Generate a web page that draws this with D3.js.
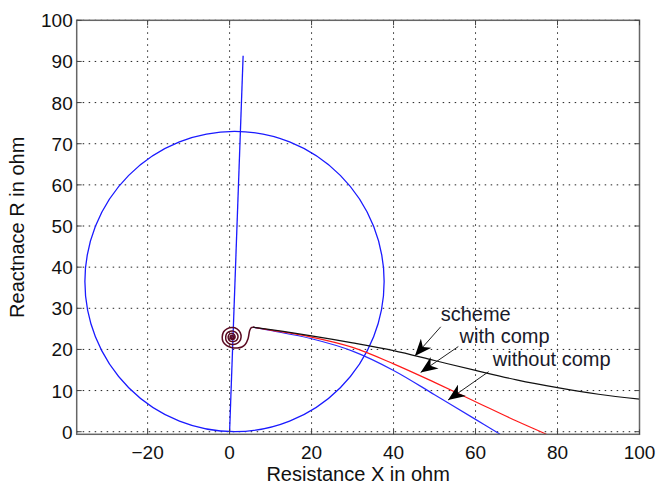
<!DOCTYPE html>
<html>
<head>
<meta charset="utf-8">
<script src="https://cdn.jsdelivr.net/npm/d3@7"></script>
<style>
  body { margin: 0; background: #fff; }
  text { font-family: "Liberation Sans", Arial, sans-serif; fill: #111; }
</style>
</head>
<body>
<svg id="chart" width="657" height="487"></svg>
<script>
// axis ticks
const xTicks = [-20, 0, 20, 40, 60, 80, 100];
const yTicks = [0, 10, 20, 30, 40, 50, 60, 70, 80, 90, 100];

// relay characteristic: mho circle + line
const mhoCenter = [1.2, 36.5];
const mhoRadius = 36.5;
const relayLine = [[0, 0], [3.3, 91.4]];

// transient spiral common to all three trajectories
const spiral = [
  [5.7, 25.4], [5.3, 25.3], [4.9, 24.6], [4.5, 22.6], [3.8, 21.2], [3.0, 20.6],
  [1.9, 20.35], [0.65, 20.4], [-0.7, 20.9], [-1.6, 21.9], [-1.8, 23.0], [-1.45, 24.3],
  [-0.65, 25.0], [0.65, 25.3], [1.8, 25.0], [2.6, 24.1], [2.8, 23.0], [2.45, 22.0],
  [1.75, 21.4], [0.65, 21.2], [-0.25, 21.5], [-0.85, 22.2], [-0.95, 23.0], [-0.75, 23.8],
  [-0.15, 24.3], [0.65, 24.5], [1.45, 24.2], [1.95, 23.6], [2.05, 23.0], [1.75, 22.3],
  [1.15, 21.95], [0.65, 21.9], [0.05, 22.1], [-0.25, 22.5], [-0.35, 23.0], [-0.15, 23.6],
  [0.25, 23.85], [0.65, 23.9], [1.15, 23.6], [1.35, 23.0], [1.15, 22.55], [0.65, 22.4],
  [0.25, 22.6], [0.1, 23.0], [0.3, 23.35], [0.65, 23.45], [0.95, 23.2], [0.95, 22.85],
  [0.65, 22.7], [0.45, 22.9], [0.55, 23.1], [0.7, 23.0]
];

// impedance trajectories
const scheme = [[5.7, 25.4], [10, 24.8], [20, 23.3], [30, 21.6], [40, 19.7], [50, 17.3],
  [60, 14.9], [70, 12.6], [80, 10.7], [90, 9.1], [100, 7.9]];
const withComp = [[5.7, 25.4], [10, 24.7], [20, 23.0], [30, 20.5], [40, 16.5], [50, 12.0],
  [60, 7.3], [70, 2.6], [77.3, -0.6]];
const withoutComp = [[5.7, 25.4], [10, 24.6], [20, 22.6], [30, 19.6], [40, 14.9], [50, 9.0],
  [60, 3.0], [66, -0.6]];

// annotation labels: text position, arrow tail, arrow head (data units)
const labels = ["scheme", "with comp", "without comp"];
const labelPos = [[51.5, 26.9], [56.1, 21.6], [64.2, 16.0]];
const arrowTail = [[51.5, 25.5], [55.8, 20.7], [63.2, 14.6]];
const arrowHead = [[45.2, 18.4], [46.6, 14.4], [53.3, 7.7]];

const margin = { top: 20.3, right: 17.5, bottom: 52.7, left: 76.7 },
      width = 657 - margin.left - margin.right,
      height = 487 - margin.top - margin.bottom;

const x = d3.scaleLinear().domain([-37.3, 100]).range([0, width]);
const y = d3.scaleLinear().domain([-0.63, 100]).range([height, 0]);

const svg = d3.select("#chart");
const g = svg.append("g")
    .attr("transform", `translate(${margin.left},${margin.top})`);

g.append("clipPath").attr("id", "clip")
  .append("rect").attr("width", width).attr("height", height);

// grid
g.append("g").selectAll("line").data(xTicks).enter().append("line")
    .attr("x1", d => x(d)).attr("x2", d => x(d))
    .attr("y1", 0).attr("y2", height)
    .attr("stroke", "#222").attr("stroke-width", 1)
    .attr("stroke-dasharray", "1.5,4.5");
g.append("g").selectAll("line").data(yTicks).enter().append("line")
    .attr("x1", 0).attr("x2", width)
    .attr("y1", d => y(d)).attr("y2", d => y(d))
    .attr("stroke", "#222").attr("stroke-width", 1)
    .attr("stroke-dasharray", "1.5,4.5");

const plot = g.append("g").attr("clip-path", "url(#clip)");

// mho circle
plot.append("ellipse")
    .attr("cx", x(mhoCenter[0])).attr("cy", y(mhoCenter[1]))
    .attr("rx", x(mhoRadius) - x(0)).attr("ry", y(0) - y(mhoRadius))
    .attr("fill", "none").attr("stroke", "#1a1aff").attr("stroke-width", 1.3);

const line = d3.line().x(d => x(d[0])).y(d => y(d[1]));
const smooth = d3.line().x(d => x(d[0])).y(d => y(d[1])).curve(d3.curveCatmullRom);

plot.append("path").datum(relayLine).attr("d", line)
    .attr("fill", "none").attr("stroke", "#1a1aff").attr("stroke-width", 1.3);

plot.append("path").datum(withoutComp).attr("d", smooth)
    .attr("fill", "none").attr("stroke", "#2a2aff").attr("stroke-width", 1.2);
plot.append("path").datum(withComp).attr("d", smooth)
    .attr("fill", "none").attr("stroke", "#ff1a1a").attr("stroke-width", 1.2);
plot.append("path").datum(scheme).attr("d", smooth)
    .attr("fill", "none").attr("stroke", "#111").attr("stroke-width", 1.2);
plot.append("path").datum(spiral).attr("d", smooth)
    .attr("fill", "none").attr("stroke", "#5a0a22").attr("stroke-width", 1.5);

// box
g.append("rect").attr("width", width).attr("height", height)
    .attr("fill", "none").attr("stroke", "#666").attr("stroke-width", 1.5);

// inward ticks on all four sides
const tk = 5;
xTicks.forEach(d => {
  g.append("line").attr("x1", x(d)).attr("x2", x(d)).attr("y1", height).attr("y2", height - tk).attr("stroke", "#444");
  g.append("line").attr("x1", x(d)).attr("x2", x(d)).attr("y1", 0).attr("y2", tk).attr("stroke", "#444");
});
yTicks.forEach(d => {
  g.append("line").attr("x1", 0).attr("x2", tk).attr("y1", y(d)).attr("y2", y(d)).attr("stroke", "#444");
  g.append("line").attr("x1", width).attr("x2", width - tk).attr("y1", y(d)).attr("y2", y(d)).attr("stroke", "#444");
});

// tick labels
g.append("g").selectAll("text").data(xTicks).enter().append("text")
    .attr("x", d => x(d)).attr("y", height + 25)
    .attr("text-anchor", "middle").style("font-size", "19px")
    .text(d => d < 0 ? "\u2212" + Math.abs(d) : d);
g.append("g").selectAll("text").data(yTicks).enter().append("text")
    .attr("x", -4).attr("y", d => y(d) + 7)
    .attr("text-anchor", "end").style("font-size", "19px")
    .text(d => d);

// axis titles
g.append("text").attr("x", width / 2).attr("y", height + 47)
    .attr("text-anchor", "middle").style("font-size", "20px")
    .text("Resistance X in ohm");
g.append("text")
    .attr("transform", `translate(${-53},${height / 2}) rotate(-90)`)
    .attr("text-anchor", "middle").style("font-size", "20px")
    .text("Reactnace R in ohm");

// arrow marker (MATLAB-style notched head)
svg.append("defs").append("marker")
    .attr("id", "head").attr("markerUnits", "userSpaceOnUse")
    .attr("viewBox", "0 0 17 14").attr("refX", 17).attr("refY", 7)
    .attr("markerWidth", 17).attr("markerHeight", 14).attr("orient", "auto")
  .append("path").attr("d", "M0,0 L17,7 L0,14 L5,7 Z").attr("fill", "#000");

labels.forEach((t, i) => {
  g.append("line")
      .attr("x1", x(arrowTail[i][0])).attr("y1", y(arrowTail[i][1]))
      .attr("x2", x(arrowHead[i][0])).attr("y2", y(arrowHead[i][1]))
      .attr("stroke", "#222").attr("stroke-width", 1)
      .attr("marker-end", "url(#head)");
  g.append("text")
      .attr("x", x(labelPos[i][0])).attr("y", y(labelPos[i][1]))
      .style("font-size", "20px").style("fill", "#1a1a2a")
      .text(t);
});
</script>
</body>
</html>
